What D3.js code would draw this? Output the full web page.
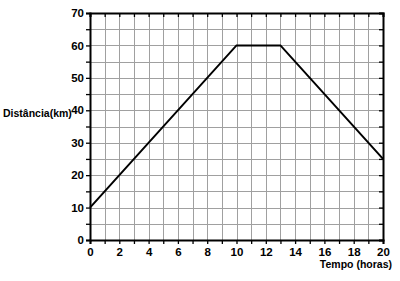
<!DOCTYPE html>
<html>
<head>
<meta charset="utf-8">
<script src="https://cdn.jsdelivr.net/npm/d3@7"></script>
<style>
body { margin: 0; background: #fff; }
text { font-family: "Liberation Sans", Arial, sans-serif; font-weight: bold; }
</style>
</head>
<body>
<svg width="400" height="281"></svg>
<script>
// data
const tempo = [0, 10, 13, 20];
const distancia = [10, 60, 60, 25];
const xTicks = [0, 2, 4, 6, 8, 10, 12, 14, 16, 18, 20];
const yTicks = [0, 10, 20, 30, 40, 50, 60, 70];

const svg = d3.select('svg');
const m = { left: 90, right: 383, top: 13, bottom: 240 };

const x = d3.scaleLinear().domain([0, 20]).range([m.left, m.right]);
const y = d3.scaleLinear().domain([0, 70]).range([m.bottom, m.top]);

// grid
const grid = svg.append('g').attr('stroke', '#a0a0a0').attr('stroke-width', 1);
d3.range(1, 20).forEach(v => {
	grid.append('line')
	    .attr('x1', Math.round(x(v)) + 0.5).attr('x2', Math.round(x(v)) + 0.5)
	    .attr('y1', m.top).attr('y2', m.bottom);
});
d3.range(5, 70, 5).forEach(v => {
	grid.append('line')
	    .attr('y1', Math.round(y(v)) + 0.5).attr('y2', Math.round(y(v)) + 0.5)
	    .attr('x1', m.left).attr('x2', m.right);
});

// axes
const xAx = svg.append('g').attr('transform', `translate(0,${m.bottom})`)
	.call(d3.axisBottom(x).tickValues(d3.range(0, 21)).tickSize(4).tickFormat(d => xTicks.includes(d) ? d : ''));
const xTop = svg.append('g').attr('transform', `translate(0,${m.top})`)
	.call(d3.axisBottom(x).tickValues(d3.range(0, 21)).tickSize(4).tickFormat(''));
const yAx = svg.append('g').attr('transform', `translate(${m.left},0)`)
	.call(d3.axisLeft(y).tickValues(d3.range(0, 71, 5)).tickSize(4).tickFormat(d => yTicks.includes(d) ? d : ''));
const yRight = svg.append('g').attr('transform', `translate(${m.right},0)`)
	.call(d3.axisLeft(y).tickValues(d3.range(0, 71, 5)).tickSize(4).tickFormat(''));

[xAx, xTop, yAx, yRight].forEach(g => {
	g.select('.domain').attr('stroke', '#000').attr('stroke-width', 2);
	g.selectAll('.tick line').attr('stroke', '#000').attr('stroke-width', 1.3);
	g.selectAll('text').attr('fill', '#000').style('font-size', '11.5px');
});
xAx.selectAll('text').attr('dy', '0.71em').attr('y', 8);
yAx.selectAll('text').attr('x', -6);

// line
svg.append('path')
   .datum(tempo.map((t, i) => [t, distancia[i]]))
   .attr('fill', 'none').attr('stroke', '#000').attr('stroke-width', 2)
   .attr('d', d3.line().x(d => x(d[0])).y(d => y(d[1])));

// axis titles
svg.append('text').attr('x', 3).attr('y', 117).style('font-size', '10.5px').text('Distância(km)');
svg.append('text').attr('x', 392).attr('y', 268).attr('text-anchor', 'end').style('font-size', '10.5px').text('Tempo (horas)');
</script>
</body>
</html>
